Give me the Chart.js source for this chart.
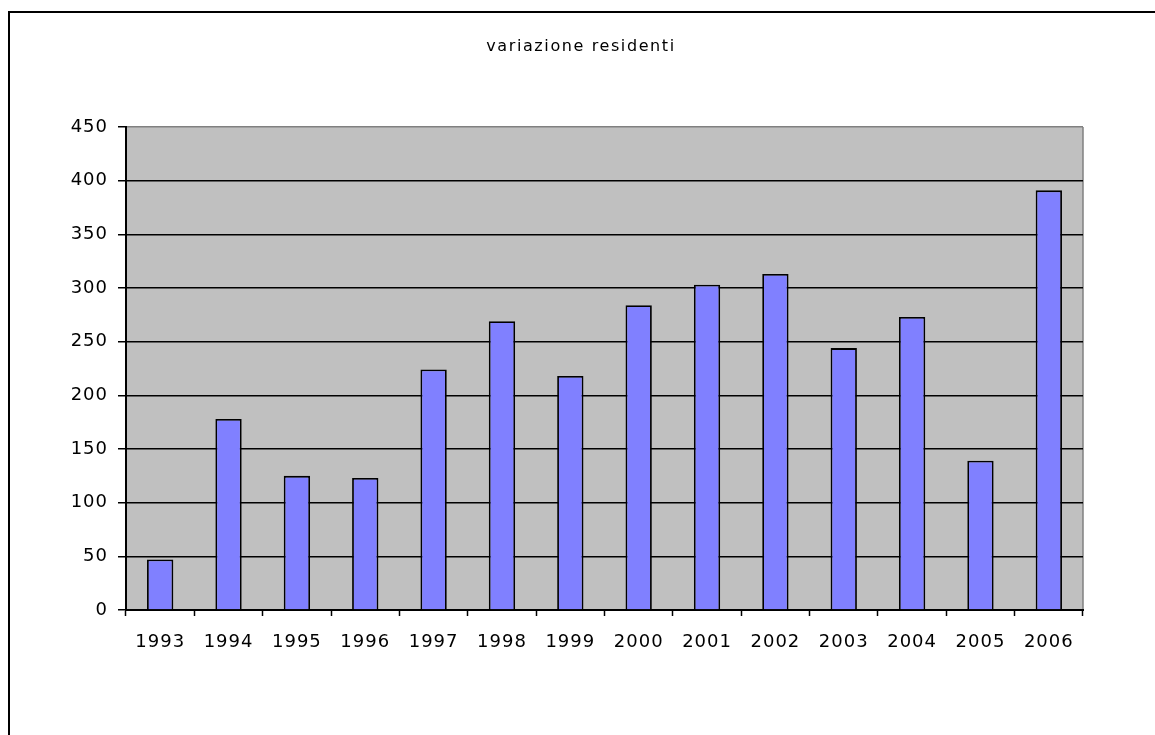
<!DOCTYPE html>
<html>
<head>
<meta charset="utf-8">
<title>variazione residenti</title>
<script src="https://cdn.jsdelivr.net/npm/chart.js@4/dist/chart.umd.min.js"></script>
<style>
  html, body { margin: 0; padding: 0; background: #fff; }
  #wrap { width: 1155px; height: 735px; }
</style>
</head>
<body>
<div id="wrap"><canvas id="chart" width="1155" height="735"></canvas></div>
<script>
// values
const years = ["1993", "1994", "1995", "1996", "1997", "1998", "1999", "2000", "2001", "2002", "2003", "2004", "2005", "2006"];
const residenti = [47, 178, 125, 123, 224, 269, 218, 284, 303, 313, 244, 273, 139, 391];
const titleText = "variazione residenti";

const fontFamily = "'DejaVu Sans', sans-serif";

// excel-ish look: slightly spaced text, grey plot area, outer frame
const excelLook = {
  id: "excelLook",
  beforeUpdate(chart) { chart.ctx.letterSpacing = "1px"; },
  beforeDraw(chart) {
    const ctx = chart.ctx;
    const a = chart.chartArea;
    ctx.save();
    // outer frame (left + top)
    ctx.strokeStyle = "#000";
    ctx.lineWidth = 2;
    ctx.beginPath();
    ctx.moveTo(9, 735);
    ctx.lineTo(9, 12);
    ctx.lineTo(1155, 12);
    ctx.stroke();
    // plot background
    ctx.fillStyle = "#C0C0C0";
    ctx.fillRect(a.left, a.top, a.right - a.left, a.bottom - a.top);
    // right border of plot
    ctx.strokeStyle = "#808080";
    ctx.lineWidth = 1.5;
    ctx.beginPath();
    ctx.moveTo(a.right, a.top);
    ctx.lineTo(a.right, a.bottom);
    ctx.stroke();
    ctx.restore();
    ctx.letterSpacing = "1px";
  },
  afterDraw(chart) {
    const ctx = chart.ctx;
    ctx.save();
    ctx.letterSpacing = "1.6px";
    ctx.font = "16px " + fontFamily;
    ctx.fillStyle = "#000";
    ctx.textAlign = "center";
    ctx.textBaseline = "alphabetic";
    ctx.fillText(titleText, 581, 51);
    ctx.restore();
  }
};

const ctx = document.getElementById("chart").getContext("2d");

new Chart(ctx, {
  type: "bar",
  data: {
    labels: years,
    datasets: [{
      data: residenti,
      backgroundColor: "#8080FF",
      borderColor: "#000",
      borderWidth: 1.8,
      categoryPercentage: 1,
      barPercentage: 0.385
    }]
  },
  options: {
    responsive: false,
    animation: false,
    layout: { padding: { top: 127, right: 72, bottom: 75, left: 0 } },
    plugins: {
      legend: { display: false },
      title: { display: false },
      tooltip: { enabled: false }
    },
    scales: {
      x: {
        afterFit: (s) => { s.height = 50; },
        grid: {
          offset: true,
          drawOnChartArea: false,
          tickLength: 6,
          tickColor: "#000",
          tickWidth: 1.5
        },
        border: { color: "#000", width: 2 },
        ticks: {
          color: "#000",
          padding: 16,
          maxRotation: 0,
          font: { family: fontFamily, size: 18 }
        }
      },
      y: {
        min: 0,
        max: 450,
        afterFit: (s) => { s.width = 126; },
        grid: {
          color: (c) => (c.tick && c.tick.value === 450 ? "#808080" : "#000"),
          lineWidth: 1.5,
          tickLength: 8,
          tickColor: "#000",
          tickWidth: 1.5
        },
        border: { color: "#000", width: 2 },
        ticks: {
          stepSize: 50,
          color: "#000",
          padding: 10,
          font: { family: fontFamily, size: 18 }
        }
      }
    }
  },
  plugins: [excelLook]
});
</script>
</body>
</html>
